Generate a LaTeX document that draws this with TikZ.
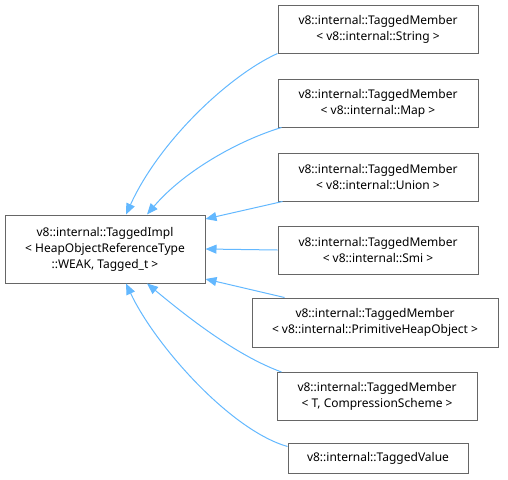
\documentclass[tikz,border=0pt]{standalone}
\usepackage{fontspec}
\setmainfont{Noto Sans}
\usetikzlibrary{arrows.meta}
\definecolor{edgeblue}{HTML}{63B8FF}
\definecolor{boxgray}{HTML}{666666}
\begin{document}
\begin{tikzpicture}[x=1pt,y=-1pt,
  cls/.style={draw=boxgray,fill=white,line width=1pt,inner sep=0pt,align=center,
    font=\fontsize{12}{16}\selectfont,minimum width=200pt,minimum height=48pt},
  inh/.style={draw=edgeblue,line width=1pt,-{Triangle[length=11pt,width=9pt]}}]
\useasboundingbox (0,0) rectangle (508,479);
\node[cls,minimum height=68pt] (main) at (105,249) {v8::internal::TaggedImpl\\< HeapObjectReferenceType\\::WEAK, Tagged\_t >};
\node[cls] (s1) at (378,29) {v8::internal::TaggedMember\\< v8::internal::String >};
\node[cls] (s2) at (378,103) {v8::internal::TaggedMember\\< v8::internal::Map >};
\node[cls] (s3) at (378,177) {v8::internal::TaggedMember\\< v8::internal::Union >};
\node[cls] (s4) at (378,250) {v8::internal::TaggedMember\\< v8::internal::Smi >};
\node[cls,minimum width=246pt,minimum height=49pt] (s5) at (375,322.5) {v8::internal::TaggedMember\\< v8::internal::PrimitiveHeapObject >};
\node[cls] (s6) at (377,396.5) {v8::internal::TaggedMember\\< T, CompressionScheme >};
\node[cls,minimum width=180pt,minimum height=30pt] (s7) at (378,458) {v8::internal::TaggedValue};
\draw[inh] (s1.south west) .. controls (230,75) and (160,140) .. ([xshift=21pt]main.north);
\draw[inh] ([xshift=4pt]s2.south west) .. controls (240,140) and (185,170) .. ([xshift=42pt]main.north);
\draw[inh] ([xshift=5pt]s3.south west) -- ([yshift=30pt]main.east);
\draw[inh] (s4.west) -- (main.east);
\draw[inh] ([xshift=33pt]s5.north west) -- ([yshift=-30pt]main.east);
\draw[inh] ([xshift=5pt]s6.north west) .. controls (235,355) and (185,315) .. ([xshift=42pt]main.south);
\draw[inh] ([yshift=-4pt]s7.north west) .. controls (230,430) and (155,345) .. ([xshift=21pt]main.south);
\end{tikzpicture}
\end{document}
